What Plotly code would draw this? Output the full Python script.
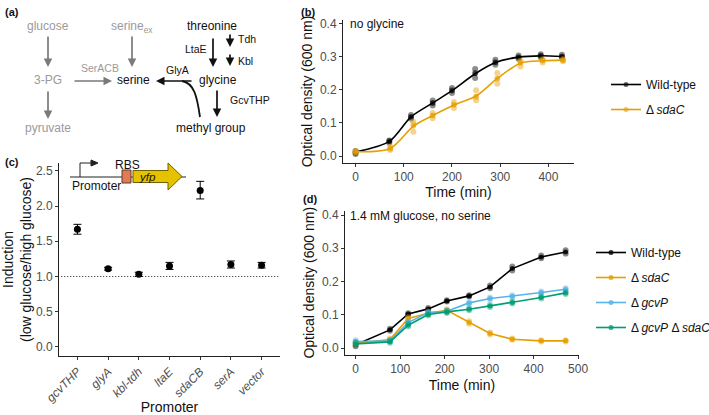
import plotly.graph_objects as go

FONT = "Liberation Sans, Arial, sans-serif"
W, H = 709, 415

# -------------------------------
# data
# -------------------------------
# (b) no glycine
time_b_wt = [0, 70, 115, 160, 200, 248, 290, 338, 384, 428]
od_b_wt = [0.012, 0.044, 0.118, 0.160, 0.197, 0.248, 0.282, 0.298, 0.302, 0.300]
rep_b_wt = [
    [0.010, 0.040, 0.112, 0.152, 0.190, 0.235, 0.275, 0.293, 0.298, 0.296],
    [0.015, 0.045, 0.118, 0.160, 0.198, 0.250, 0.283, 0.298, 0.302, 0.300],
    [0.006, 0.047, 0.124, 0.167, 0.205, 0.262, 0.290, 0.303, 0.307, 0.305],
]
time_b_sdac = [0, 72, 120, 160, 204, 250, 294, 342, 388, 430]
od_b_sdac = [0.013, 0.023, 0.090, 0.122, 0.154, 0.181, 0.234, 0.280, 0.287, 0.289]
rep_b_sdac = [
    [0.015, 0.028, 0.103, 0.130, 0.163, 0.198, 0.250, 0.287, 0.292, 0.292],
    [0.012, 0.022, 0.095, 0.122, 0.155, 0.178, 0.233, 0.283, 0.288, 0.289],
    [0.011, 0.018, 0.073, 0.114, 0.145, 0.168, 0.218, 0.270, 0.282, 0.286],
]

# (c) promoter induction
promoters = ["gcvTHP", "glyA", "kbl-tdh", "ltaE", "sdaCB", "serA", "vector"]
induction = [1.67, 1.11, 1.03, 1.15, 2.22, 1.17, 1.16]
err_up = [0.07, 0.02, 0.03, 0.05, 0.13, 0.05, 0.04]
err_down = [0.07, 0.02, 0.03, 0.05, 0.12, 0.05, 0.04]

# (d) 1.4 mM glucose, no serine
time_d = [0, 77, 118, 163, 205, 255, 302, 352, 417, 472]
od_d = {
    "Wild-type": [0.010, 0.055, 0.103, 0.118, 0.142, 0.157, 0.184, 0.239, 0.274, 0.289],
    "sdaC": [0.015, 0.026, 0.089, 0.105, 0.114, 0.077, 0.044, 0.027, 0.022, 0.022],
    "gcvP": [0.020, 0.022, 0.077, 0.107, 0.111, 0.136, 0.149, 0.156, 0.167, 0.177],
    "gcvPsdaC": [0.013, 0.019, 0.069, 0.101, 0.109, 0.117, 0.127, 0.137, 0.152, 0.166],
}
rep_d = {
    "Wild-type": [[0.006, 0.052, 0.101, 0.115, 0.140, 0.155, 0.180, 0.233, 0.270, 0.284],
                  [0.014, 0.058, 0.105, 0.121, 0.144, 0.159, 0.188, 0.245, 0.278, 0.294]],
    "sdaC": [[0.011, 0.023, 0.085, 0.102, 0.111, 0.073, 0.041, 0.025, 0.020, 0.020],
             [0.019, 0.029, 0.093, 0.108, 0.117, 0.081, 0.047, 0.029, 0.024, 0.024]],
    "gcvP": [[0.024, 0.019, 0.074, 0.104, 0.108, 0.133, 0.146, 0.153, 0.164, 0.174],
             [0.016, 0.025, 0.080, 0.110, 0.114, 0.139, 0.152, 0.159, 0.170, 0.180]],
    "gcvPsdaC": [[0.009, 0.016, 0.065, 0.098, 0.106, 0.114, 0.124, 0.134, 0.149, 0.163],
                 [0.017, 0.022, 0.073, 0.104, 0.112, 0.120, 0.130, 0.140, 0.155, 0.169]],
}
labels_d = {
    "Wild-type": "Wild-type",
    "sdaC": "Δ\u2009<i>sdaC</i>",
    "gcvP": "Δ\u2009<i>gcvP</i>",
    "gcvPsdaC": "Δ\u2009<i>gcvP</i> Δ\u2009<i>sdaC</i>",
}
colors = {
    "Wild-type": (0, 0, 0),
    "sdaC": (230, 159, 0),
    "gcvP": (86, 180, 233),
    "gcvPsdaC": (0, 158, 115),
}


def rgba(c, a):
    return "rgba(%d,%d,%d,%s)" % (c[0], c[1], c[2], a)


def dx(left, right):
    return [left / W, right / W]


def dy(top, bottom):
    return [1 - bottom / H, 1 - top / H]


fig = go.Figure()

# -------------------------------
# (b) growth without glycine
# -------------------------------
for key, t, mean, reps, name in [
    ("Wild-type", time_b_wt, od_b_wt, rep_b_wt, "Wild-type"),
    ("sdaC", time_b_sdac, od_b_sdac, rep_b_sdac, "Δ\u2009<i>sdaC</i>"),
]:
    c = colors[key]
    fig.add_trace(go.Scatter(
        x=t * len(reps), y=sum(reps, []), mode="markers",
        marker=dict(size=6, color=rgba(c, 0.45)),
        showlegend=False, xaxis="x", yaxis="y"))
    fig.add_trace(go.Scatter(
        x=t, y=mean, mode="lines+markers", name=name,
        line=dict(color=rgba(c, 1), width=1.6, shape="spline", smoothing=0.8),
        marker=dict(size=5, color=rgba(c, 0.6)),
        legend="legend", legendgroup="b" + key, xaxis="x", yaxis="y"))

# -------------------------------
# (d) growth at low glucose
# -------------------------------
for key in ["Wild-type", "sdaC", "gcvP", "gcvPsdaC"]:
    c = colors[key]
    reps = rep_d[key]
    fig.add_trace(go.Scatter(
        x=time_d * len(reps), y=sum(reps, []), mode="markers",
        marker=dict(size=6, color=rgba(c, 0.45)),
        showlegend=False, xaxis="x2", yaxis="y2"))
    fig.add_trace(go.Scatter(
        x=time_d, y=od_d[key], mode="lines+markers", name=labels_d[key],
        line=dict(color=rgba(c, 1), width=1.6),
        marker=dict(size=5, color=rgba(c, 0.8)),
        legend="legend2", legendgroup="d" + key, xaxis="x2", yaxis="y2"))

# -------------------------------
# (c) induction per promoter
# -------------------------------
fig.add_trace(go.Scatter(
    x=promoters, y=induction, mode="markers",
    marker=dict(size=7, color="black"),
    error_y=dict(type="data", array=err_up, arrayminus=err_down,
                 width=4, thickness=1, color="black"),
    showlegend=False, xaxis="x3", yaxis="y3"))

# overlay axis in pixel units for the diagram and labels
fig.add_trace(go.Scatter(x=[], y=[], xaxis="x4", yaxis="y4", showlegend=False))

axis_style = dict(showline=True, linecolor="#222", linewidth=1, ticks="outside",
                  ticklen=3, tickcolor="#333", showgrid=False, zeroline=False,
                  automargin=False, tickfont=dict(size=12, color="#4d4d4d"),
                  fixedrange=True)

fig.update_layout(
    template="none",
    width=W, height=H, margin=dict(l=0, r=0, t=0, b=0, autoexpand=False),
    paper_bgcolor="white", plot_bgcolor="rgba(0,0,0,0)",
    font=dict(family=FONT, size=12, color="#111"),
    xaxis=dict(domain=dx(343, 574), range=[-26, 453], anchor="y",
               tickvals=[0, 100, 200, 300, 400],
               title=dict(text="Time (min)", standoff=2), **axis_style),
    yaxis=dict(domain=dy(20, 163), range=[-0.021, 0.41], anchor="x",
               tickvals=[0, 0.1, 0.2, 0.3, 0.4], tickformat=".1f",
               title=dict(text="Optical density (600 nm)", standoff=4), **axis_style),
    xaxis2=dict(domain=dx(345, 579), range=[-24, 502], anchor="y2",
                tickvals=[0, 100, 200, 300, 400, 500],
                title=dict(text="Time (min)", standoff=5), **axis_style),
    yaxis2=dict(domain=dy(211, 354.5), range=[-0.019, 0.412], anchor="x2",
                tickvals=[0, 0.1, 0.2, 0.3, 0.4], tickformat=".1f",
                title=dict(text="Optical density (600 nm)", standoff=4), **axis_style),
    xaxis3=dict(domain=dx(59, 280), range=[-0.6, 6.6], anchor="y3", type="category",
                tickvals=promoters, ticktext=["<i>%s</i>" % p for p in promoters],
                tickangle=-45,
                title=dict(text="Promoter", standoff=2), **axis_style),
    yaxis3=dict(domain=dy(163, 356), range=[-0.128, 2.61], anchor="x3",
                tickvals=[0, 0.5, 1.0, 1.5, 2.0, 2.5], tickformat=".1f",
                title=dict(text="Induction<br>(low glucose/high glucose)", standoff=4),
                **axis_style),
    xaxis4=dict(domain=[0, 1], range=[0, W], anchor="y4", visible=False,
                fixedrange=True, automargin=False),
    yaxis4=dict(domain=[0, 1], range=[H, 0], anchor="x4", visible=False,
                fixedrange=True, automargin=False),
    legend=dict(x=606 / W, y=1 - 70 / H, xanchor="left", yanchor="top",
                font=dict(size=12), tracegroupgap=6, itemwidth=30,
                bgcolor="rgba(0,0,0,0)"),
    legend2=dict(x=591 / W, y=1 - 238 / H, xanchor="left", yanchor="top",
                 font=dict(size=12), tracegroupgap=6, itemwidth=30,
                 bgcolor="rgba(0,0,0,0)"),
)

# dotted reference line at induction = 1
fig.add_shape(type="line", xref="x3 domain", yref="y3", x0=0.01, x1=1, y0=1, y1=1,
              line=dict(color="#222", width=1, dash="1px,2px"))

# -------------------------------
# annotations: panel labels, conditions, pathway diagram
# -------------------------------
GRAY = "#9a9a9a"
AGRAY = "#7a7a7a"


def txt(x, y, s, size=12, color="#111", anchor="center"):
    fig.add_annotation(x=x, y=y, xref="x4", yref="y4", text=s, showarrow=False,
                       xanchor=anchor, yanchor="middle",
                       font=dict(size=size, color=color, family=FONT))


def arrow(x0, y0, x1, y1, color="#111", width=1.7):
    fig.add_annotation(x=x1, y=y1, ax=x0, ay=y0, xref="x4", yref="y4",
                       axref="x4", ayref="y4", text="", showarrow=True,
                       arrowhead=2, arrowsize=1, arrowwidth=width, arrowcolor=color)


for lab, x, y in [("(a)", 3, 12), ("(b)", 299, 12), ("(c)", 3, 162), ("(d)", 301, 199)]:
    txt(x, y, "<b>%s</b>" % lab, size=11, anchor="left")

txt(348, 24, "no glycine", anchor="left")
txt(348, 216, "1.4 mM glucose, no serine", anchor="left")

# gray part of pathway
txt(48, 26, "glucose", color=GRAY)
txt(48, 80, "3-PG", color=GRAY)
txt(48, 128, "pyruvate", color=GRAY)
txt(132, 27, "serine<sub>ex</sub>", color=GRAY)
txt(100, 68, "SerACB", size=10.5, color=GRAY)
arrow(48, 35, 48, 67, color=AGRAY)
arrow(48, 90, 48, 119, color=AGRAY)
arrow(132, 35, 132, 67, color=AGRAY)
arrow(73, 81, 112, 81, color=AGRAY)

# black part of pathway
txt(133, 80, "serine")
txt(212, 26, "threonine")
txt(218, 80, "glycine")
txt(211, 128, "methyl group")
txt(196, 49, "LtaE", size=10.5)
txt(236, 39, "Tdh", size=10.5, anchor="left")
txt(236, 61, "Kbl", size=10.5, anchor="left")
txt(228, 100, "GcvTHP", size=10.5, anchor="left")
txt(177, 70, "GlyA", size=10.5)
arrow(213, 37, 213, 67)
arrow(230, 33, 230, 47)
arrow(230, 53, 230, 66)
arrow(217, 89, 217, 117)
arrow(193, 81, 156, 81)
fig.add_shape(type="path", xref="x4", yref="y4",
              path="M 200,117 C 197,96 194,83 182,81",
              line=dict(color="#111", width=1.8))

# promoter construct schematic inside (c)
fig.add_shape(type="line", xref="x4", yref="y4", x0=70, x1=186, y0=177, y1=177,
              line=dict(color="#222", width=1))
fig.add_shape(type="path", xref="x4", yref="y4", path="M 80,177 L 80,163 L 92,163",
              line=dict(color="#222", width=1))
fig.add_shape(type="path", xref="x4", yref="y4", path="M 91,160 L 98,163 L 91,166 Z",
              fillcolor="#222", line=dict(color="#222", width=1))
fig.add_shape(type="rect", xref="x4", yref="y4", x0=122, x1=131, y0=170, y1=183,
              fillcolor="#e07b53", line=dict(color="#5a3a2a", width=1))
fig.add_shape(type="path", xref="x4", yref="y4",
              path="M 133,170.5 L 168,170.5 L 168,163 L 182,176.5 L 168,190 L 168,182.5 L 133,182.5 Z",
              fillcolor="#e5c100", line=dict(color="#6f6000", width=1))
txt(127, 165, "RBS", size=12)
txt(96, 186, "Promoter", size=12)
txt(147, 177, "<i>yfp</i>", size=11.5)

# page body has a default 8px margin; drop it so the figure fills the window
fig.write_html("out.html", config={"displayModeBar": False},
               post_script="document.body.style.margin='0px';")
